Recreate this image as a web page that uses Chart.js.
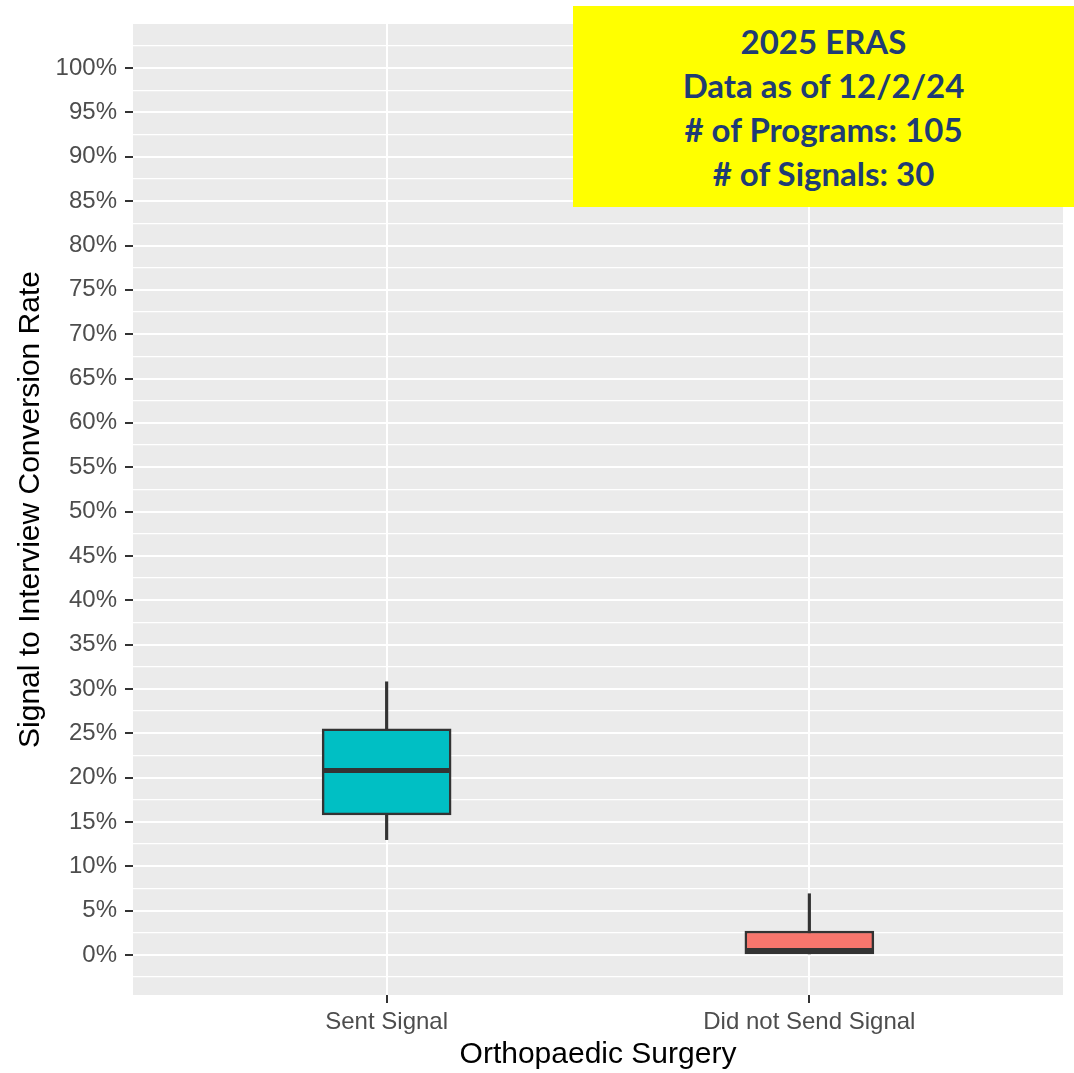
<!DOCTYPE html>
<html>
<head>
<meta charset="utf-8">
<script src="https://cdn.jsdelivr.net/npm/chart.js@4.4.1/dist/chart.umd.min.js"></script>
<style>
  body { margin: 0; background: #fff; }
  #wrap { position: relative; width: 1074px; height: 1073px; }
  #note {
    position: absolute; left: 573px; top: 6px; width: 501px; height: 201px;
    background: #FFFF00; color: #1F3C74;
    font-family: Lato, "Open Sans", sans-serif; font-weight: 700; font-size: 33px;
    line-height: 44px; text-align: center;
    display: flex; flex-direction: column; justify-content: center;
  }
</style>
</head>
<body>
<div id="wrap">
  <canvas id="chart" width="1074" height="1073"></canvas>
  <div id="note">
    <div>2025 ERAS</div>
    <div>Data as of 12/2/24</div>
    <div># of Programs: 105</div>
    <div># of Signals: 30</div>
  </div>
</div>
<script>
const categories = ['Sent Signal', 'Did not Send Signal'];
const whiskerLow = [13.0, 0.0];
const q1 = [15.8, 0.0];
const median = [20.8, 0.5];
const q3 = [25.5, 2.7];
const whiskerHigh = [30.8, 6.9];
const boxColors = ['#00BFC4', '#F8766D'];

const yMin = -4.52, yMax = 104.98;
const BOX_W = 129;

// panel background + median lines (ggplot look)
const boxplotExtras = {
    id: 'boxplotExtras',
    beforeDraw(chart) {
        const a = chart.chartArea;
        const ctx = chart.ctx;
        ctx.save();
        ctx.fillStyle = '#EBEBEB';
        ctx.fillRect(a.left, a.top, a.right - a.left, a.bottom - a.top);
        ctx.restore();
    },
    afterDatasetsDraw(chart) {
        const ctx = chart.ctx;
        const xs = chart.scales.x, ys = chart.scales.y;
        ctx.save();
        ctx.strokeStyle = '#333333';
        ctx.lineWidth = 5;
        median.forEach((m, i) => {
            const cx = xs.getPixelForValue(i + 1);
            const y = ys.getPixelForValue(m);
            ctx.beginPath();
            ctx.moveTo(cx - BOX_W / 2 + 1, y);
            ctx.lineTo(cx + BOX_W / 2 - 1, y);
            ctx.stroke();
        });
        ctx.restore();
    }
};

const isMajor = v => Math.abs(v / 5 - Math.round(v / 5)) < 1e-6;

new Chart(document.getElementById('chart'), {
    type: 'bar',
    data: {
        datasets: [
            {
                label: 'box',
                data: categories.map((c, i) => ({ x: i + 1, y: [q1[i], q3[i]] })),
                backgroundColor: boxColors,
                borderColor: '#333333',
                borderWidth: 2.5,
                borderSkipped: false,
                barThickness: BOX_W,
                grouped: false
            },
            {
                label: 'whisker',
                data: categories.map((c, i) => ({ x: i + 1, y: [whiskerLow[i], whiskerHigh[i]] })),
                backgroundColor: '#333333',
                barThickness: 2.5,
                grouped: false
            }
        ]
    },
    options: {
        responsive: false,
        animation: false,
        layout: { padding: { top: 24, right: 11, left: 0, bottom: 0 } },
        plugins: {
            legend: { display: false },
            tooltip: { enabled: false }
        },
        scales: {
            x: {
                type: 'linear',
                min: 0.4,
                max: 2.6,
                offset: false,
                afterBuildTicks(scale) {
                    scale.ticks = categories.map((c, i) => ({ value: i + 1 }));
                },
                afterFit(scale) { scale.height = 78; },
                border: { display: false },
                grid: {
                    offset: false,
                    color: '#FFFFFF',
                    lineWidth: 2,
                    tickColor: '#333333',
                    tickWidth: 2,
                    tickLength: 8
                },
                ticks: {
                    color: '#4D4D4D',
                    font: { family: 'Liberation Sans', size: 24 },
                    padding: 5,
                    maxRotation: 0,
                    callback: v => categories[Math.round(v) - 1] || ''
                },
                title: {
                    display: true,
                    text: 'Orthopaedic Surgery',
                    color: '#000000',
                    font: { family: 'Liberation Sans', size: 30 },
                    padding: { top: 0, bottom: 0 }
                }
            },
            y: {
                min: yMin,
                max: yMax,
                afterBuildTicks(scale) {
                    const t = [];
                    for (let i = -1; i <= 41; i++) t.push({ value: i * 2.5 });
                    scale.ticks = t;
                },
                afterFit(scale) { scale.width = 133; },
                border: { display: false },
                grid: {
                    color: '#FFFFFF',
                    lineWidth: ctx => isMajor(ctx.tick.value) ? 2 : 1.2,
                    tickColor: ctx => isMajor(ctx.tick.value) ? '#333333' : 'rgba(0,0,0,0)',
                    tickWidth: 2,
                    tickLength: 8
                },
                ticks: {
                    color: '#4D4D4D',
                    font: { family: 'Liberation Sans', size: 24 },
                    padding: 8,
                    autoSkip: false,
                    callback: v => (isMajor(v) && v >= 0 && v <= 100) ? Math.round(v) + '%' : ''
                },
                title: {
                    display: true,
                    text: 'Signal to Interview Conversion Rate',
                    color: '#000000',
                    font: { family: 'Liberation Sans', size: 30 },
                    padding: { top: 13, bottom: 0 }
                }
            }
        }
    },
    plugins: [boxplotExtras]
});
</script>
</body>
</html>
